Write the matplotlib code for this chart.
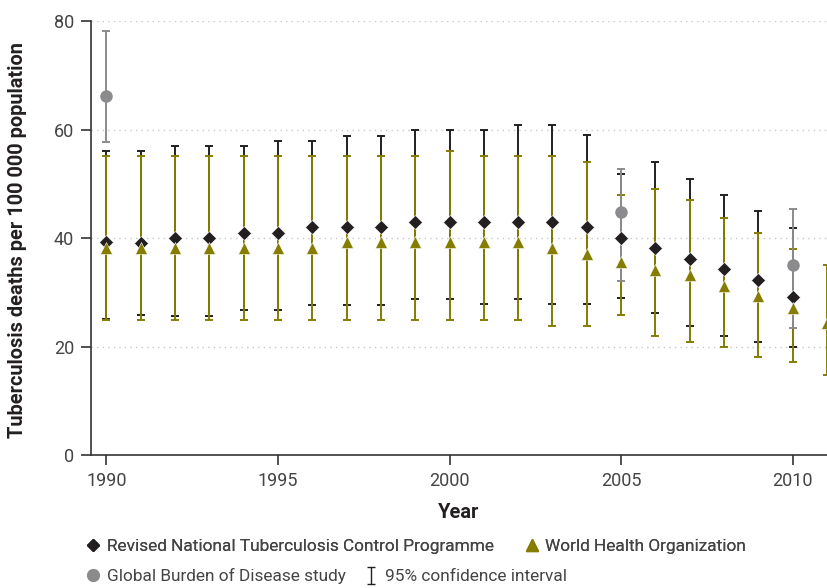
import numpy as np
import matplotlib
matplotlib.use('Agg')
import matplotlib.pyplot as plt
from matplotlib.lines import Line2D

plt.rcParams['font.family'] = ['Liberation Sans Narrow', 'Roboto', 'DejaVu Sans']

# Revised National Tuberculosis Control Programme
rntcp_years = np.arange(1990, 2011)
rntcp_val = [39.2, 39.1, 40.0, 40.0, 41.0, 41.0, 42.0, 42.0, 42.0, 43.0, 43.0,
             43.0, 43.0, 43.0, 42.0, 40.0, 38.1, 36.1, 34.2, 32.2, 29.2]
rntcp_low = [25.0, 25.9, 25.6, 25.7, 26.7, 26.7, 27.6, 27.6, 27.6, 28.8, 28.8,
             27.8, 28.8, 27.8, 27.8, 29.0, 26.1, 23.7, 21.9, 20.8, 20.0]
rntcp_high = [56.0, 56.0, 56.9, 56.9, 56.9, 57.9, 57.9, 58.9, 58.9, 59.9, 59.9,
              59.9, 60.9, 60.9, 59.0, 51.8, 54.0, 50.8, 48.0, 45.0, 41.8]

# World Health Organization
who_years = np.arange(1990, 2012)
who_val = [38.2, 38.2, 38.2, 38.2, 38.2, 38.2, 38.2, 39.3, 39.3, 39.3, 39.3,
           39.3, 39.3, 38.1, 37.0, 35.6, 34.1, 33.2, 31.2, 29.3, 27.1, 24.3]
who_low = [24.8, 24.8, 24.8, 24.8, 24.8, 24.8, 24.8, 24.8, 24.8, 24.8, 24.8,
           24.8, 24.8, 23.8, 23.8, 25.9, 21.9, 20.8, 20.0, 18.1, 17.1, 14.7]
who_high = [55.2, 55.2, 55.2, 55.2, 55.2, 55.2, 55.2, 55.1, 55.1, 55.1, 56.1,
            55.1, 55.1, 55.1, 54.1, 48.0, 49.0, 47.1, 43.7, 41.0, 38.0, 35.1]

# Global Burden of Disease study
gbd_years = [1990, 2005, 2010]
gbd_val = [66.2, 44.8, 35.0]
gbd_low = [57.7, 32.1, 23.4]
gbd_high = [78.2, 52.8, 45.4]

c_black = '#231f20'
c_olive = '#857d00'
c_gray = '#8b8b8d'


def yerr(val, low, high):
    val = np.array(val)
    return [val - np.array(low), np.array(high) - val]


fig = plt.figure(figsize=(8.27, 5.88), dpi=100)
ax = fig.add_axes([0.110, 0.2262, 0.890, 0.738])

ax.errorbar(rntcp_years, rntcp_val, yerr=yerr(rntcp_val, rntcp_low, rntcp_high),
            fmt='none', ecolor=c_black, elinewidth=1.4, capsize=2.8, capthick=1.4, zorder=2)
ax.errorbar(who_years, who_val, yerr=yerr(who_val, who_low, who_high),
            fmt='none', ecolor=c_olive, elinewidth=1.4, capsize=2.8, capthick=1.4, zorder=3)
ax.errorbar(gbd_years, gbd_val, yerr=yerr(gbd_val, gbd_low, gbd_high),
            fmt='none', ecolor=c_gray, elinewidth=1.4, capsize=2.8, capthick=1.4, zorder=4)

ax.plot(rntcp_years, rntcp_val, 'D', color=c_black, ms=7.3, mec='white', mew=0.4, zorder=5)
ax.plot(who_years, who_val, '^', color=c_olive, ms=9.2, mec='white', mew=0.4, zorder=6)
ax.plot(gbd_years, gbd_val, 'o', color=c_gray, ms=9.0, mew=0, zorder=7)

ax.set_xlim(1989.55, 2011.0)
ax.set_ylim(0, 80)
ax.set_xticks([1990, 1995, 2000, 2005, 2010])
ax.set_yticks([0, 20, 40, 60, 80])
for v in [20, 40, 60, 80]:
    ax.axhline(v, color='#c8c8c8', lw=1.0, ls=(0, (1, 3)), zorder=1)

for s in ['top', 'right']:
    ax.spines[s].set_visible(False)
for s in ['left', 'bottom']:
    ax.spines[s].set_color('#333333')
    ax.spines[s].set_linewidth(1.2)
ax.tick_params(axis='both', length=7, width=1.2, color='#333333',
               labelsize=13, labelcolor='#444444', pad=5)

ax.set_ylabel('Tuberculosis deaths per 100 000 population', fontsize=14.4,
              fontweight='bold', color='#231f20')
ax.yaxis.set_label_coords(-0.087, 0.495)
ax.set_xlabel('Year', fontsize=14.4, fontweight='bold', color='#231f20')
ax.xaxis.set_label_coords(0.499, -0.111)

# legend, two independent rows
ci_handle = ax.errorbar([np.nan], [np.nan], yerr=[[1], [1]], fmt='none',
                        ecolor=c_black, elinewidth=1.0, capsize=3, capthick=1.0)
h_rntcp = Line2D([], [], marker='D', color=c_black, ls='none', ms=6.5)
h_who = Line2D([], [], marker='^', color=c_olive, ls='none', ms=8.5)
h_gbd = Line2D([], [], marker='o', color=c_gray, ls='none', ms=8.5)

leg1 = fig.legend([h_rntcp, h_who],
                  ['Revised National Tuberculosis Control Programme', 'World Health Organization'],
                  loc='center left', bbox_to_anchor=(0.0833, 0.071), ncol=2, frameon=False,
                  fontsize=12.4, handlelength=1.0, handletextpad=0.3, columnspacing=1.7,
                  labelcolor='#444444')
leg2 = fig.legend([h_gbd, ci_handle],
                  ['Global Burden of Disease study', '95% confidence interval'],
                  loc='center left', bbox_to_anchor=(0.0833, 0.020), ncol=2, frameon=False,
                  fontsize=12.4, handlelength=1.0, handletextpad=0.3, columnspacing=1.0,
                  labelcolor='#444444')
fig.add_artist(leg1)

fig.savefig('out.png', dpi=100)
